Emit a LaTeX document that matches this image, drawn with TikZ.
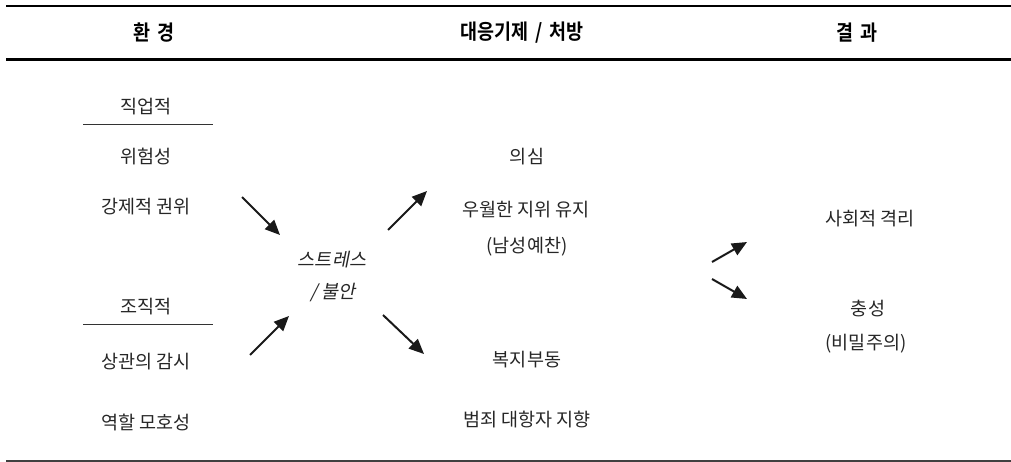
\documentclass[tikz,border=0pt]{standalone}
\usepackage{fontspec}
\usetikzlibrary{arrows.meta}
\newfontfamily\krfont{Noto Sans CJK KR}
\newfontfamily\krslant{Noto Sans CJK KR}[FakeSlant=0.2]
\newfontfamily\krhead{Noto Sans CJK KR Bold}[FakeStretch=0.88]
\begin{document}
\begin{tikzpicture}[x=1pt,y=-1pt,
  txt/.style={inner sep=0pt,font=\krfont\fontsize{18.5}{20}\selectfont,text=black!85},
  itx/.style={inner sep=0pt,font=\krslant\fontsize{18.5}{20}\selectfont,text=black!85},
  hdr/.style={inner sep=0pt,font=\krhead\fontsize{21}{22}\selectfont},
  arr/.style={line width=2pt,black!90,-{Triangle[length=15pt,width=13pt]}},
  rule/.style={line width=0.9pt,black!80}]
\useasboundingbox (0,0) rectangle (1011,462);
% table rules
\draw[line width=2.6pt] (6,6) -- (1011,6);
\draw[line width=2.8pt] (6,59.7) -- (1011,59.7);
\draw[line width=1.2pt,black!75] (6,461) -- (1011,461);
% headers
\node[hdr] (h1) at (154,33) {환\hspace{0.3em}경};
\node[hdr] (h2) at (522,33) {대응기제\hspace{0.35em}/\hspace{0.35em}처방};
\node[hdr] (h3) at (857,33) {결\hspace{0.3em}과};
% left column
\node[txt] (jik) at (146,107) {직업적};
\draw[rule] (83,124) -- (213,124);
\node[txt] (wih) at (146,156) {위험성};
\node[txt] (gang) at (146,207) {강제적 권위};
\node[txt] (jojik) at (146,307) {조직적};
\draw[rule] (83,324) -- (213,324);
\node[txt] (sang) at (146,362) {상관의 감시};
\node[txt] (yeok) at (146,422) {역할 모호성};
% centre
\node[itx] (stress) at (332,260) {스트레스};
\node[itx] (bul) at (333,293) {/ 불안};
% middle column
\node[txt] (uisim) at (527,157) {의심};
\node[txt] (uwol) at (526,210) {우월한 지위 유지};
\node[txt] (nam) at (527,247) {(남성예찬)};
\node[txt] (bok) at (527,360) {복지부동};
\node[txt] (beom) at (527,420) {범죄 대항자 지향};
% right column
\node[txt] (sahoe) at (870,219) {사회적 격리};
\node[txt] (chung) at (868,309) {충성};
\node[txt] (bimil) at (866,344) {(비밀주의)};
% arrow end points
\coordinate (a1s) at (242,197); \coordinate (a1e) at (280,235);
\coordinate (a2s) at (250,355); \coordinate (a2e) at (289,316);
\coordinate (a3s) at (388,230); \coordinate (a3e) at (427,191);
\coordinate (a4s) at (383,315); \coordinate (a4e) at (424,354);
\coordinate (a5s) at (712,262); \coordinate (a5e) at (747,242);
\coordinate (a6s) at (712,279); \coordinate (a6e) at (747,299);
\draw[arr] (a1s) -- (a1e);
\draw[arr] (a2s) -- (a2e);
\draw[arr] (a3s) -- (a3e);
\draw[arr] (a4s) -- (a4e);
\draw[arr] (a5s) -- (a5e);
\draw[arr] (a6s) -- (a6e);
\end{tikzpicture}
\end{document}
